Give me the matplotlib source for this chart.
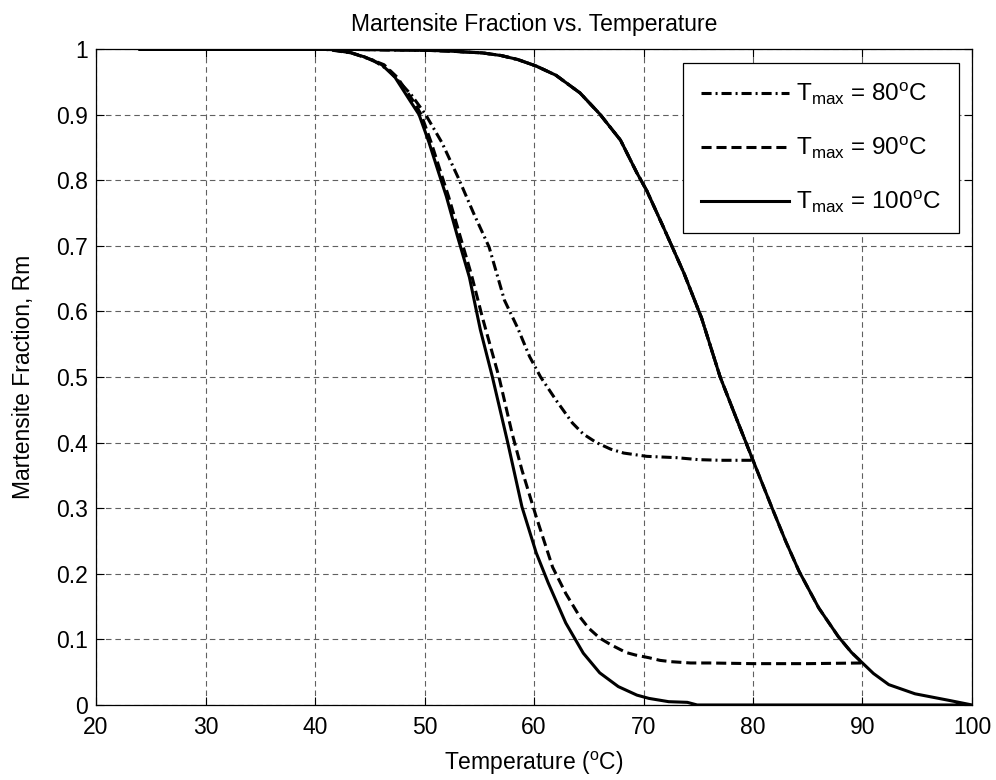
import numpy as np
import matplotlib
matplotlib.use('Agg')
import matplotlib.pyplot as plt

plt.rcParams['font.family'] = ['Liberation Sans', 'DejaVu Sans']
plt.rcParams['mathtext.fontset'] = 'custom'
plt.rcParams['mathtext.rm'] = 'Liberation Sans'
plt.rcParams['mathtext.it'] = 'Liberation Sans'

# Duong gia nhiet chung (heating branch): nhiet do va ti phan martensite
T_nung = [24, 40, 45, 50, 52, 55.3, 57, 58.5, 60.2, 62, 64.2, 66, 67.9, 69.4, 70.3,
          71.8, 73.7, 75.3, 77, 78.5, 80, 81.7, 83, 84.2, 86, 87.8, 89, 90, 91,
          92.4, 94.8, 97.9, 100]
R_nung = [1.0, 1.0, 0.999, 0.998, 0.997, 0.994, 0.990, 0.984, 0.974, 0.960, 0.933,
          0.901, 0.861, 0.811, 0.784, 0.729, 0.658, 0.590, 0.500, 0.436, 0.373,
          0.302, 0.249, 0.204, 0.148, 0.104, 0.080, 0.064, 0.048, 0.031, 0.017,
          0.007, 0.0]

# Duong lam nguoi (cooling branch) cho tung Tmax
T_nguoi_80 = [80, 77, 75, 73, 70.3, 68.2, 67, 65.7, 64.5, 63.5, 62, 60.6, 59.6, 58.5,
              57.3, 55.9, 54.5, 53.1, 51.6, 50.1, 48.8, 46.7, 45.3, 43.3, 41.2, 40, 24]
R_nguoi_80 = [0.373, 0.373, 0.374, 0.377, 0.379, 0.384, 0.390, 0.400, 0.413, 0.430,
              0.465, 0.500, 0.531, 0.575, 0.617, 0.698, 0.749, 0.803, 0.857, 0.900,
              0.930, 0.968, 0.983, 0.994, 0.999, 1.0, 1.0]

T_nguoi_90 = [90, 85, 80, 76, 74.3, 72.5, 71.5, 70.5, 69.3, 68.4, 67, 66, 65, 64.2,
              62.9, 61.7, 60.2, 58.9, 58, 56.8, 55.3, 54.3, 53.3, 52.2, 51.5, 50.6,
              49.7, 49, 47.5, 46.3, 44.5, 43, 41.5, 40, 24]
R_nguoi_90 = [0.064, 0.063, 0.063, 0.064, 0.064, 0.066, 0.068, 0.072, 0.076, 0.080,
              0.092, 0.102, 0.117, 0.134, 0.170, 0.210, 0.287, 0.358, 0.414, 0.500,
              0.590, 0.655, 0.712, 0.775, 0.811, 0.858, 0.900, 0.920, 0.957, 0.976,
              0.988, 0.996, 0.999, 1.0, 1.0]

T_nguoi_100 = [100, 90, 80, 76, 74.9, 74, 72.3, 70.5, 69.4, 67.7, 66, 64.5, 62.9, 61.3,
               60.2, 58.9, 57.6, 56.2, 55.1, 54.1, 53, 52, 51.3, 50.4, 49.5, 48.8,
               47.3, 46.1, 44.5, 43.3, 41.5, 40, 24]
R_nguoi_100 = [0.0, 0.0, 0.0, 0.0, 0.0, 0.004, 0.005, 0.010, 0.015, 0.028, 0.049,
               0.079, 0.125, 0.186, 0.232, 0.302, 0.400, 0.500, 0.572, 0.652, 0.715,
               0.775, 0.811, 0.858, 0.900, 0.918, 0.957, 0.976, 0.988, 0.994, 0.999,
               1.0, 1.0]

Tmax_list = [80, 90, 100]
nhan = [r'T$_{\rm max}$ = %d$^{\rm o}$C' % t for t in Tmax_list]


def GhepChuTrinh(Tmax, T_nguoi, R_nguoi):
    T_n = np.array(T_nung)
    R_n = np.array(R_nung)
    m = T_n <= Tmax
    return np.concatenate([T_n[m], T_nguoi]), np.concatenate([R_n[m], R_nguoi])


fig = plt.figure(figsize=(9.96, 7.8), dpi=100)
ax = fig.add_axes([0.0964, 0.0962, 0.8795, 0.841])

lw = 2.2
x80, y80 = GhepChuTrinh(80, T_nguoi_80, R_nguoi_80)
x90, y90 = GhepChuTrinh(90, T_nguoi_90, R_nguoi_90)
x100, y100 = GhepChuTrinh(100, T_nguoi_100, R_nguoi_100)
ax.plot(x80, y80, color='k', lw=lw, dashes=(3.3, 1.3, 0.65, 1.3), label=nhan[0])
ax.plot(x90, y90, color='k', lw=lw, dashes=(3.3, 1.6), label=nhan[1])
ax.plot(x100, y100, color='k', lw=lw, label=nhan[2])

ax.set_xlim(20, 100)
ax.set_ylim(0, 1)
ax.set_xticks(np.arange(20, 101, 10))
ax.set_yticks(np.arange(0, 1.01, 0.1))
ax.set_yticklabels(['0', '0.1', '0.2', '0.3', '0.4', '0.5', '0.6', '0.7', '0.8', '0.9', '1'])
ax.tick_params(direction='in', length=6, width=0.8, top=True, right=True,
               labelsize=16.5, pad=6)
ax.tick_params(axis='x', pad=8)
ax.grid(True, color='#606060', lw=0.8, dashes=(5, 3.5))
for s in ax.spines.values():
    s.set_linewidth(0.9)

ax.set_title('Martensite Fraction vs. Temperature', fontsize=16.5, pad=13)
ax.set_xlabel(r'Temperature ($^{\rm o}$C)', fontsize=16.5, labelpad=8)
ax.set_ylabel('Martensite Fraction, Rm', fontsize=16.5, labelpad=15)

leg = ax.legend(loc='upper right', bbox_to_anchor=(0.985, 0.979), borderaxespad=0,
                fontsize=17.5, handlelength=3.6, handletextpad=0.3, labelspacing=1.15,
                borderpad=0.75, fancybox=False, framealpha=1, edgecolor='k')
leg.get_frame().set_linewidth(0.9)

fig.savefig('out.png', dpi=100)
